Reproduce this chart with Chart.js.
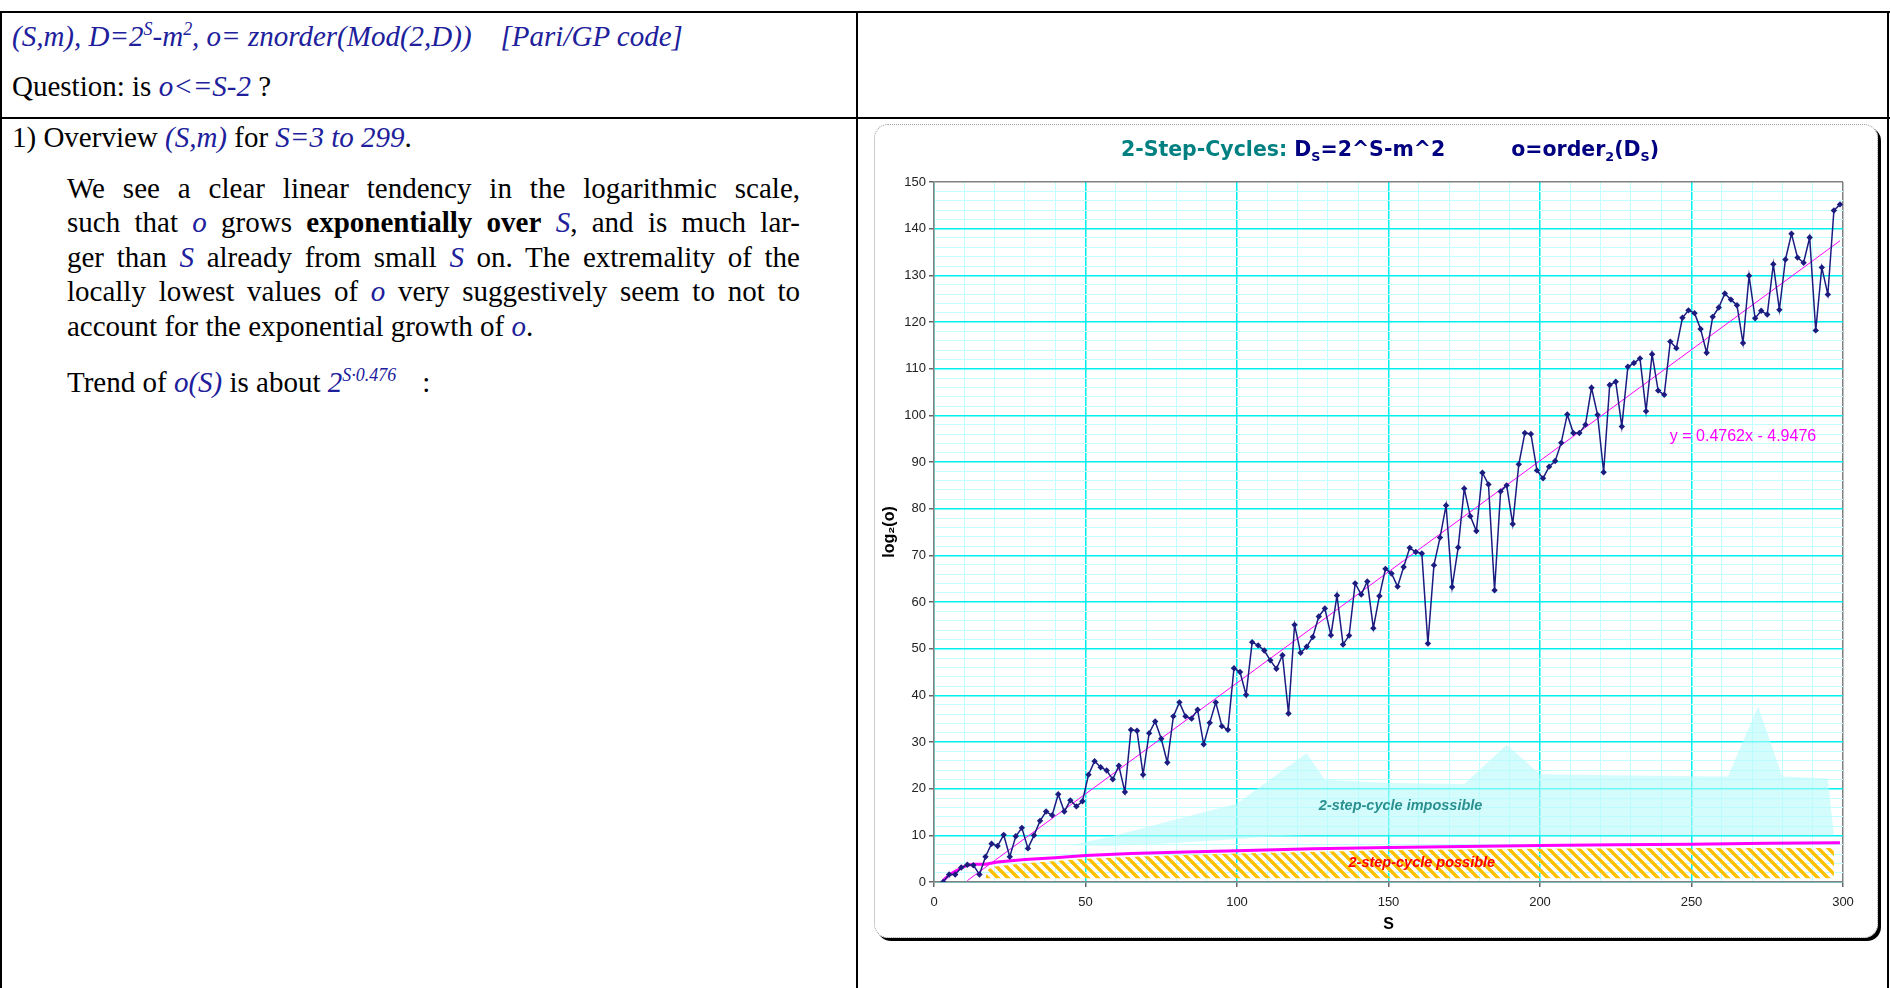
<!DOCTYPE html>
<html>
<head>
<meta charset="utf-8">
<script src="https://cdn.jsdelivr.net/npm/chart.js@4.4.1/dist/chart.umd.min.js"></script>
<style>
  body { margin: 0; width: 1890px; height: 988px; position: relative; background: #fff; overflow: hidden; font-family: "Liberation Serif", serif; }
  .rule { position: absolute; background: #000; }
  .line { position: absolute; font-size: 29px; line-height: 34px; color: #000; white-space: nowrap; }
  .par { position: absolute; left: 67px; width: 733px; font-size: 29px; line-height: 34.4px; }
  .par div { text-align: justify; text-align-last: justify; white-space: nowrap; }
  .par div.last { text-align-last: left; }
  .b { color: #20209c; font-style: italic; }
  sup { font-size: 0.62em; line-height: 0; }
  #box { position: absolute; left: 874px; top: 124px; width: 1002px; height: 812px; border: 1.5px dotted #9a9a9a; border-radius: 14px; box-shadow: 3px 3px 0 0 #000; }
  #c { position: absolute; left: 874px; top: 124px; }
  #title { position: absolute; left: 1390px; top: 137px; transform: translateX(-50%); font-family: "DejaVu Sans", sans-serif; font-weight: bold; font-size: 20.5px; color: #000080; white-space: nowrap; }
  #title sub { font-size: 0.62em; }
</style>
</head>
<body>
<div class="rule" style="left:0;top:11px;width:1890px;height:2px"></div>
<div class="rule" style="left:0;top:117px;width:1890px;height:2px"></div>
<div class="rule" style="left:0;top:11px;width:2px;height:977px"></div>
<div class="rule" style="left:856px;top:11px;width:2px;height:977px"></div>
<div class="rule" style="left:1887px;top:11px;width:2px;height:977px"></div>

<div class="line b" style="left:12px;top:19px">(S,m), D=2<sup>S</sup>-m<sup>2</sup>, o= znorder(Mod(2,D))&nbsp;&nbsp;&nbsp; [Pari/GP code]</div>
<div class="line" style="left:12px;top:69px">Question: is <span class="b">o&lt;=S-2</span> ?</div>
<div class="line" style="left:12px;top:120px">1) Overview <span class="b">(S,m)</span> for <span class="b">S=3 to 299</span>.</div>

<div class="par" style="top:171px">
  <div>We see a clear linear tendency in the logarithmic scale,</div>
  <div>such that <span class="b">o</span> grows <b>exponentially over</b> <span class="b">S</span>, and is much lar-</div>
  <div>ger than <span class="b">S</span> already from small <span class="b">S</span> on. The extremality of the</div>
  <div>locally lowest values of <span class="b">o</span> very suggestively seem to not to</div>
  <div class="last">account for the exponential growth of <span class="b">o</span>.</div>
</div>
<div class="line" style="left:67px;top:365px">Trend of <span class="b">o(S)</span> is about <span class="b">2<sup>S·0.476</sup></span><span style="display:inline-block;width:26px"></span>:</div>

<div id="box"></div>
<canvas id="c" width="1006" height="816"></canvas>
<div id="title"><span style="color:#008080">2-Step-Cycles:</span> D<sub>S</sub>=2^S-m^2<span style="display:inline-block;width:66px"></span>o=order<sub>2</sub>(D<sub>S</sub>)</div>

<script>
// S values (odd S from 3 to 299) and log2 of the order o
var sValues = [3,5,7,9,11,13,15,17,19,21,23,25,27,29,31,33,35,37,39,41,43,45,47,49,
  51,53,55,57,59,61,63,65,67,69,71,73,75,77,79,81,83,85,87,89,91,93,95,97,
  99,101,103,105,107,109,111,113,115,117,119,121,123,125,127,129,131,133,135,137,139,141,143,145,
  147,149,151,153,155,157,159,161,163,165,167,169,171,173,175,177,179,181,183,185,187,189,191,193,
  195,197,199,201,203,205,207,209,211,213,215,217,219,221,223,225,227,229,231,233,235,237,239,241,
  243,245,247,249,251,253,255,257,259,261,263,265,267,269,271,273,275,277,279,281,283,285,287,289,
  291,293,295,297,299];
var logOrder = [0,1.6,1.6,3.1,3.7,3.6,1.6,5.4,8.2,7.7,10.1,5.4,9.8,11.6,7.2,10.0,13.1,15.1,14.3,18.8,15.1,17.5,16.2,17.3,
  23.0,25.9,24.6,23.9,22.0,24.9,19.3,32.6,32.4,23.0,31.9,34.4,30.7,25.6,35.5,38.5,35.5,35.0,36.9,29.5,34.1,38.5,33.4,32.6,
  45.8,45.0,40.1,51.4,50.7,49.6,47.5,45.7,48.6,36.1,55.1,49.1,50.4,52.5,56.9,58.6,52.9,61.4,50.9,52.8,64.0,61.6,64.4,54.4,
  61.3,67.1,66.1,63.3,67.5,71.6,70.7,70.4,51.1,67.9,73.8,80.7,63.2,71.7,84.3,78.4,75.2,87.7,85.2,62.5,83.7,85.0,76.7,89.5,
  96.2,96.0,88.2,86.5,89.0,90.2,94.1,100.2,96.2,96.2,98.0,105.9,100.1,87.8,106.5,107.2,97.6,110.4,111.2,112.2,100.9,113.1,105.3,104.4,
  115.8,114.4,120.9,122.5,121.9,118.5,113.4,121.1,123.1,126.1,124.8,123.6,115.5,129.9,120.8,122.4,121.6,132.4,122.6,133.4,138.9,133.8,132.7,138.1,
  118.2,131.7,125.9,143.9,145.2];

// linear trend line end points
var trendS = [11, 299];
var trendLog = [0.3, 137.4];

// lower bound line (thick magenta)
var boundS = [3,5,7,9,11,13,17,21,30,40,50,65,80,100,125,150,175,200,225,250,275,299];
var boundLog = [0.3,1.5,2.3,3.0,3.6,3.8,3.8,4.3,4.8,5.2,5.7,6.1,6.4,6.7,7.1,7.4,7.6,7.8,8.0,8.1,8.3,8.4];

// "2-step-cycle impossible" band
var impS = [45,60,75,90,100,112,123,129,150,175,189,200,230,262,272,280,295,297];
var impTop = [7.8,10.0,12.6,15.1,16.8,22.5,27.6,21.9,21.2,21.0,29.4,23.1,22.8,22.6,37.6,22.6,22.2,10];
var impBottom = [7.8,7.8,8.2,8.8,9.2,9.8,10,10,10,10,10,10,10,10,10,10,10,10];

// "2-step-cycle possible" hatched area
var possS = [17,18,20,30,50,75,100,150,200,250,297];
var possTop = [1.0,2.8,3.3,4.0,5.0,5.6,6.1,6.8,7.1,7.3,7.3];

function pts(xs, ys) {
  return xs.map(function(x, i) { return { x: x, y: ys[i] }; });
}

var canvas = document.getElementById('c');
var ctx = canvas.getContext('2d');

// diagonal orange hatch
var pc = document.createElement('canvas');
pc.width = 10; pc.height = 10;
var pg = pc.getContext('2d');
pg.strokeStyle = '#FFC000';
pg.lineWidth = 3.4;
pg.beginPath();
pg.moveTo(-1, -1); pg.lineTo(11, 11);
pg.moveTo(-3, 7); pg.lineTo(3, 13);
pg.moveTo(7, -3); pg.lineTo(13, 3);
pg.stroke();
var hatch = ctx.createPattern(pc, 'repeat');

var notes = {
  id: 'notes',
  afterDatasetsDraw: function(chart) {
    var c = chart.ctx, x = chart.scales.x, y = chart.scales.y;
    c.save();
    c.textAlign = 'center';
    c.textBaseline = 'middle';
    c.font = 'italic bold 14.5px "Liberation Sans"';
    c.fillStyle = '#2a8f8f';
    c.fillText('2-step-cycle impossible', x.getPixelForValue(154), y.getPixelForValue(16.2));
    c.fillStyle = '#ff0000';
    c.fillText('2-step-cycle possible', x.getPixelForValue(161), y.getPixelForValue(4.1));
    c.font = '16px "Liberation Sans"';
    c.fillStyle = '#ff00ff';
    c.fillText('y = 0.4762x - 4.9476', x.getPixelForValue(267), y.getPixelForValue(95.5));
    c.restore();
  }
};

function gridX(c) {
  var v = c.tick ? c.tick.value : 0;
  if (v === 300) return '#808080';
  return v % 50 === 0 ? '#00f0f0' : '#c4ffff';
}
function gridY(c) {
  var v = c.tick ? c.tick.value : 0;
  if (v === 150) return '#808080';
  return v % 10 === 0 ? '#00f0f0' : '#c4ffff';
}

new Chart(ctx, {
  type: 'line',
  data: {
    datasets: [
      { label: 'log2(o)', data: pts(sValues, logOrder), borderColor: '#1c1c80', backgroundColor: '#1c1c80',
        borderWidth: 1.5, pointStyle: 'rectRot', pointRadius: 3.2, pointBorderWidth: 0, fill: false, tension: 0 },
      { label: 'trend', data: pts(trendS, trendLog), borderColor: '#ff00ff', borderWidth: 1, pointRadius: 0, fill: false },
      { label: 'bound', data: pts(boundS, boundLog), borderColor: '#ff00ff', borderWidth: 3, pointRadius: 0, fill: false },
      { label: 'possible', data: pts(possS, possTop), borderColor: 'transparent', pointRadius: 0,
        backgroundColor: hatch, fill: { value: 0.8 } },
      { label: 'impossible', data: pts(impS, impTop), borderColor: 'transparent', pointRadius: 0,
        backgroundColor: 'rgba(185,250,250,0.6)', fill: '+1' },
      { label: 'impLow', data: pts(impS, impBottom), borderColor: 'transparent', pointRadius: 0, fill: false }
    ]
  },
  options: {
    responsive: false,
    animation: false,
    devicePixelRatio: 1,
    layout: { padding: { left: 0, right: 37, top: 58, bottom: 0 } },
    plugins: { legend: { display: false }, tooltip: { enabled: false } },
    scales: {
      x: {
        type: 'linear', min: 0, max: 300,
        afterFit: function(a) { a.height = 58; },
        ticks: { stepSize: 10, autoSkip: false, maxRotation: 0, color: '#222', padding: 8,
          font: { family: 'Liberation Sans', size: 13 },
          callback: function(v) { return v % 50 === 0 ? v : ''; } },
        grid: { color: gridX, lineWidth: function(c) { return c.tick && c.tick.value % 50 === 0 ? 1.5 : 1; },
          tickColor: function(c) { return c.tick && c.tick.value % 50 === 0 ? '#666' : 'transparent'; }, tickLength: 5 },
        border: { color: '#808080', width: 1.5 },
        title: { display: true, text: 'S', color: '#000', font: { family: 'Liberation Sans', size: 16, weight: 'bold' }, padding: { top: 0, bottom: 6 } }
      },
      y: {
        min: 0, max: 150,
        afterFit: function(a) { a.width = 60; },
        ticks: { stepSize: 2, autoSkip: false, color: '#222',
          font: { family: 'Liberation Sans', size: 13 },
          callback: function(v) { return v % 10 === 0 ? v : ''; } },
        grid: { color: gridY, lineWidth: function(c) { return c.tick && c.tick.value % 10 === 0 ? 1.5 : 1; },
          tickColor: function(c) { return c.tick && c.tick.value % 10 === 0 ? '#666' : 'transparent'; }, tickLength: 5 },
        border: { color: '#808080', width: 1.5 },
        title: { display: true, text: 'log₂(o)', color: '#000', font: { family: 'Liberation Sans', size: 16, weight: 'bold' }, padding: { top: 6, bottom: 0 } }
      }
    }
  },
  plugins: [notes]
});
</script>
</body>
</html>
